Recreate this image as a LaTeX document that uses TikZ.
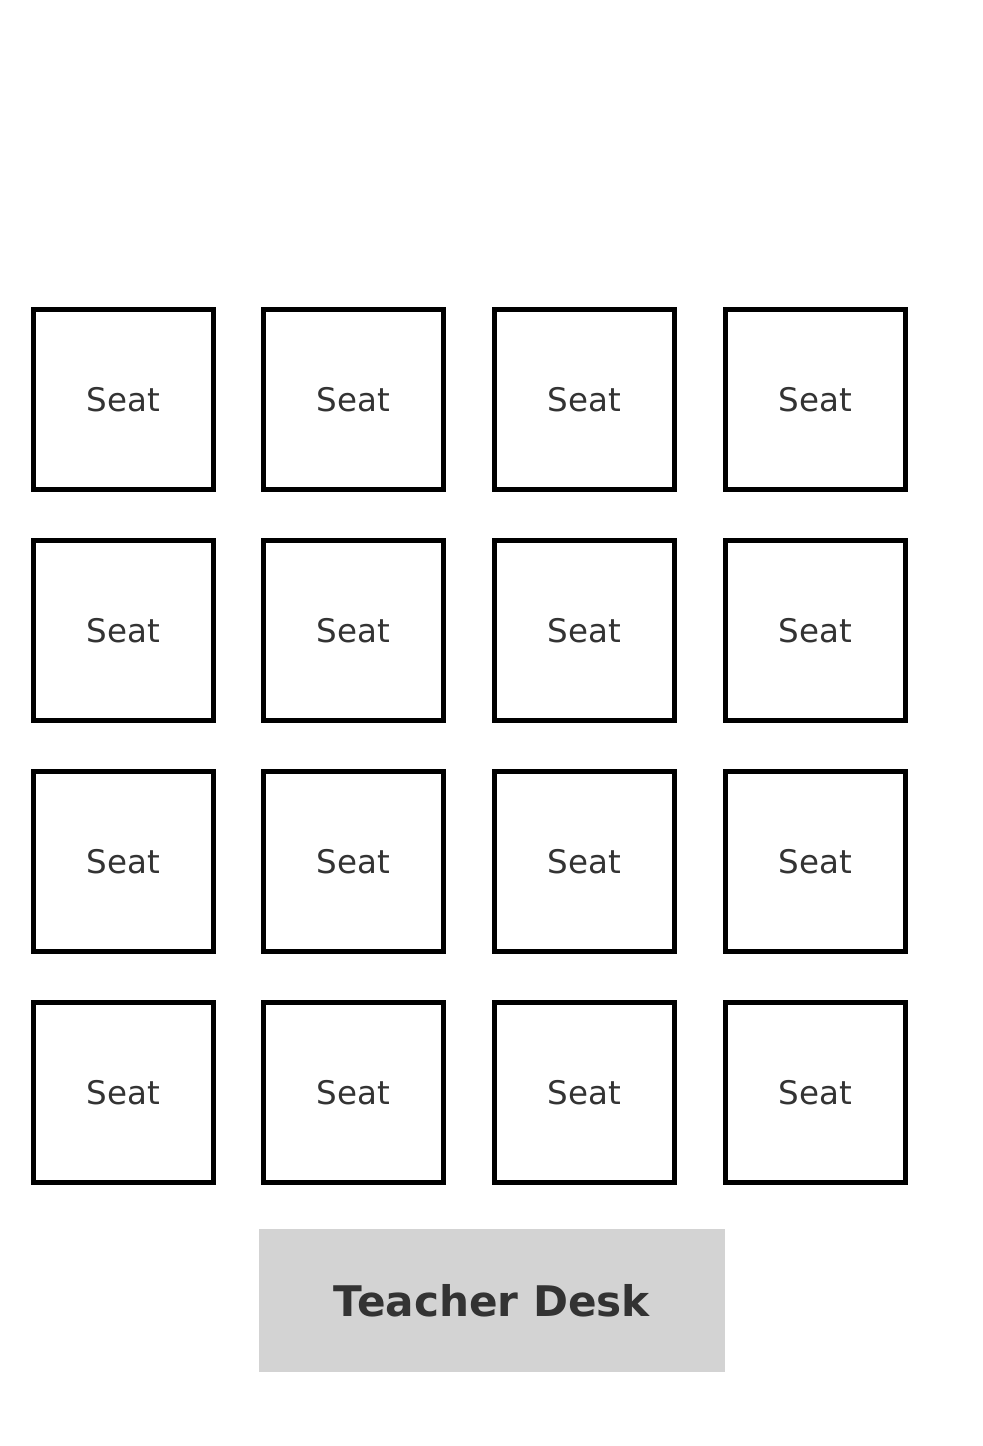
\documentclass[tikz,border=0pt]{standalone}
\usepackage{fontspec}
\setmainfont{DejaVu Sans}
\usetikzlibrary{positioning}
\definecolor{textgray}{HTML}{333333}
\definecolor{deskgray}{HTML}{D3D3D3}
\tikzset{
    seatbox/.style={draw=black, line width=0.11cm, minimum width=3.6cm, minimum height=3.6cm,
        inner sep=0pt, text=textgray, font=\fontsize{18.5}{20}\selectfont},
    deskbox/.style={fill=deskgray, minimum width=9.32cm, minimum height=2.86cm,
        inner sep=0pt, text=textgray, font=\fontsize{24}{26}\selectfont\bfseries}
}
\begin{document}
\begin{tikzpicture}[x=0.02cm, y=-0.02cm]
    \useasboundingbox (0,0) rectangle (983,1446);
    % seats, four rows of four
    \foreach \r/\y in {1/399.5, 2/630.5, 3/861.5, 4/1092.5} {
        \foreach \c/\x in {1/123.5, 2/353.5, 3/584.5, 4/815.5} {
            \node[seatbox] (seat-\r-\c) at (\x,\y) {Seat};
        }
    }
    % desk at the front
    \node[deskbox] (desk) at (492,1300.5) {Teacher Desk};
\end{tikzpicture}
\end{document}
